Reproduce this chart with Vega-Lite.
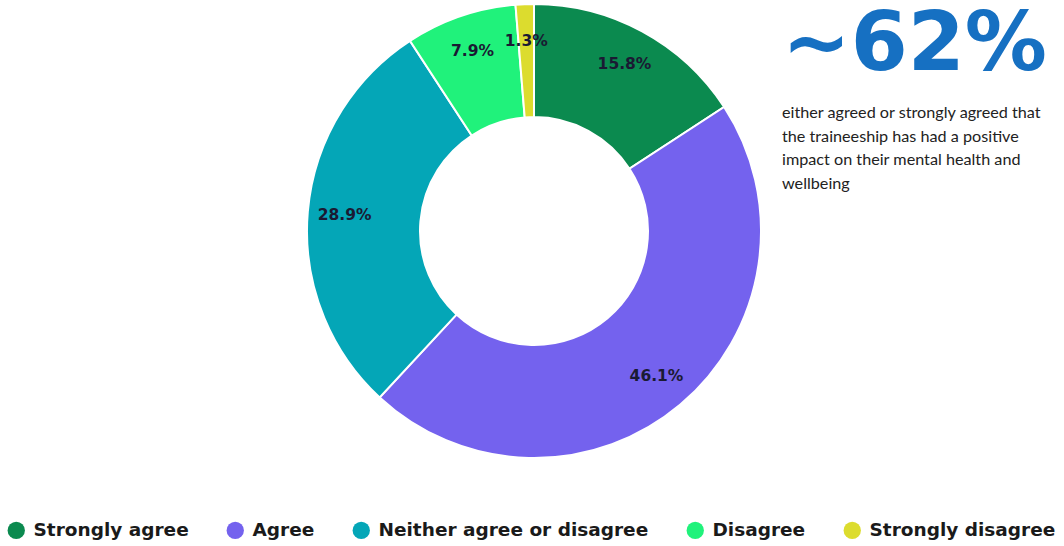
{
  "$schema": "https://vega.github.io/schema/vega-lite/v6.json",
  "width": 1060,
  "height": 462,
  "autosize": {"type": "none"},
  "padding": {"left": 4, "top": 0, "right": 0, "bottom": 84},
  "background": "white",
  "config": {"view": {"stroke": null}},
  "title": {
    "text": "~62%",
    "subtitle": ["either agreed or strongly agreed that", "the traineeship has had a positive", "impact on their mental health and", "wellbeing"],
    "anchor": "start",
    "frame": "group",
    "orient": "top",
    "offset": 0,
    "dx": 778,
    "dy": 193,
    "font": "DejaVu Sans",
    "fontSize": 82,
    "fontWeight": "bold",
    "color": "#1670c2",
    "subtitleFont": "Lato",
    "subtitleFontSize": 16.2,
    "subtitleLineHeight": 23.5,
    "subtitleColor": "#222222",
    "subtitlePadding": 18
  },
  "data": {
    "values": [
      {"response": "Strongly agree", "pct": 15.8, "label": "15.8%", "idx": 1},
      {"response": "Agree", "pct": 46.1, "label": "46.1%", "idx": 2},
      {"response": "Neither agree or disagree", "pct": 28.9, "label": "28.9%", "idx": 3},
      {"response": "Disagree", "pct": 7.9, "label": "7.9%", "idx": 4},
      {"response": "Strongly disagree", "pct": 1.3, "label": "1.3%", "idx": 5}
    ]
  },
  "encoding": {
    "theta": {"field": "pct", "type": "quantitative", "stack": true},
    "order": {"field": "idx", "type": "quantitative", "sort": "ascending"}
  },
  "layer": [
    {
      "mark": {"type": "arc", "innerRadius": 114, "outerRadius": 227, "stroke": "white", "strokeWidth": 2},
      "encoding": {
        "color": {
          "field": "response",
          "type": "nominal",
          "scale": {
            "domain": ["Strongly agree", "Agree", "Neither agree or disagree", "Disagree", "Strongly disagree"],
            "range": ["#0b8a4f", "#7462ee", "#04a6b7", "#20f27b", "#dcdc2e"]
          },
          "legend": {
            "title": null,
            "orient": "none",
            "direction": "horizontal",
            "legendX": 3,
            "legendY": 521,
            "symbolType": "circle",
            "symbolSize": 300,
            "symbolStrokeWidth": 0,
            "symbolOpacity": 1,
            "labelFont": "DejaVu Sans",
            "labelFontWeight": "bold",
            "labelFontSize": 18.5,
            "labelColor": "#1a1a1a",
            "labelOffset": 8,
            "labelLimit": 400,
            "columnPadding": 37
          }
        }
      }
    },
    {
      "mark": {"type": "text", "radius": 190, "font": "DejaVu Sans", "fontWeight": "bold", "fontSize": 15.5, "color": "#1a1a33", "align": "center", "baseline": "middle"},
      "encoding": {
        "text": {"field": "label", "type": "nominal"}
      }
    }
  ]
}
